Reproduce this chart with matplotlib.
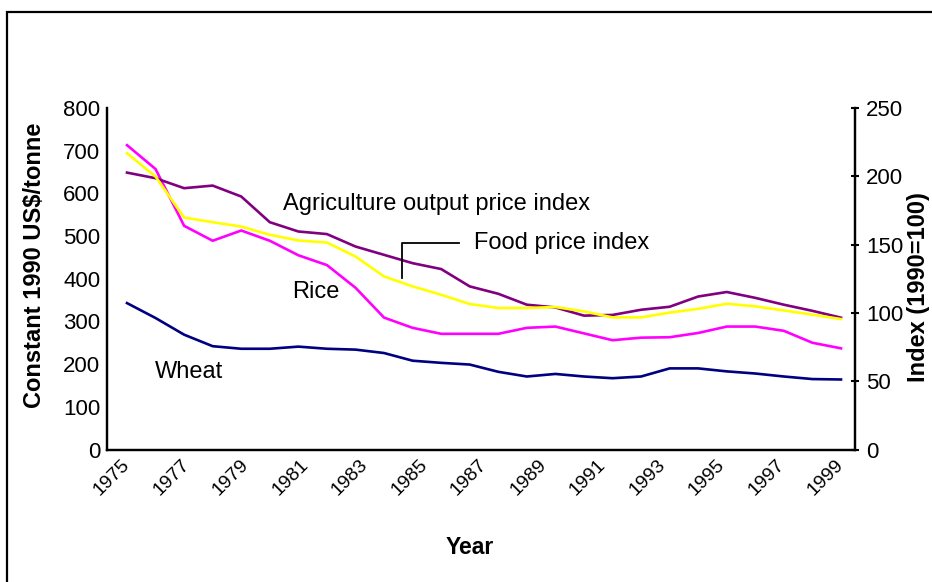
import numpy as np
import matplotlib
matplotlib.use("Agg")
import matplotlib.pyplot as plt
from matplotlib.patches import Rectangle

plt.rcParams['font.family'] = ['Liberation Sans', 'DejaVu Sans']

# ---- data ----
year_labels = ["1975", "1977", "1979", "1981", "1983", "1985", "1987",
               "1989", "1991", "1993", "1995", "1997", "1999"]

rice = [713, 657, 524, 489, 513, 489, 455, 432, 379, 309, 285, 271, 271,
        271, 285, 288, 272, 256, 262, 263, 273, 288, 288, 278, 250, 237]
wheat = [343, 308, 269, 242, 236, 236, 241, 236, 234, 226, 208, 203, 199,
         182, 171, 177, 171, 167, 171, 190, 190, 183, 178, 171, 165, 164]
agri_index = [202.7, 198.6, 191.3, 193.2, 185.2, 166.4, 159.6, 157.7, 148.6,
              142.5, 136.4, 132.1, 119.4, 114.0, 106.0, 104.0, 98.0, 98.5,
              102.3, 104.5, 112.0, 115.3, 111.0, 106.0, 101.5, 96.5]
food_index = [216.9, 199.8, 169.8, 166.4, 163.2, 157.2, 153.0, 151.5, 141.3,
              126.7, 119.4, 113.3, 106.5, 103.6, 103.6, 104.3, 101.1, 96.7,
              96.7, 100.2, 103.0, 106.7, 104.8, 101.8, 98.7, 95.5]

left_ticks = [0, 100, 200, 300, 400, 500, 600, 700, 800]
right_ticks = [0, 50, 100, 150, 200, 250]

x = np.arange(len(rice))

W, H = 932, 582
fig = plt.figure(figsize=(W / 100, H / 100), dpi=100)

def fx(px):
    return px / W

def fy(py):
    return 1 - py / H

ax = fig.add_axes([fx(107.4), fy(449.5), fx(855) - fx(107.4), fy(108) - fy(449.5)])
ax2 = ax.twinx()

lw = 1.9
ax.plot(x, rice, color='#FF00FF', lw=lw, solid_joinstyle='miter')
ax.plot(x, wheat, color='#000080', lw=lw, solid_joinstyle='miter')
ax2.plot(x, agri_index, color='#800080', lw=lw, solid_joinstyle='miter')
ax2.plot(x, food_index, color='#FFFF00', lw=lw, solid_joinstyle='miter')

ax.set_xlim(-0.686, 25.49)
ax.set_ylim(0, 800)
ax2.set_ylim(0, 250)

ax.set_yticks(left_ticks)
ax.set_yticklabels([str(t) for t in left_ticks], fontsize=16)
ax2.set_yticks(right_ticks)
ax2.set_yticklabels([str(t) for t in right_ticks], fontsize=16)

tick_pos = np.linspace(x[0], x[-1], len(year_labels))
ax.set_xticks(tick_pos)
ax.set_xticklabels(year_labels, rotation=45, ha='right', va='center',
                   rotation_mode='anchor', fontsize=14)

ax.tick_params(axis='x', length=0, pad=9)
ax.tick_params(axis='y', length=0, pad=5)
ax2.tick_params(axis='y', direction='inout', length=6, width=1.5, pad=5)

for a in (ax, ax2):
    a.spines['top'].set_visible(False)
    for s in ('left', 'right', 'bottom'):
        a.spines[s].set_linewidth(1.6)
ax.patch.set_alpha(0)

# series labels / annotations
ax.text(0.98, 182.5, "Wheat", fontsize=17, va='center', ha='left')
ax.text(5.78, 369.6, "Rice", fontsize=17, va='center', ha='left')
ax2.text(5.46, 179.8, "Agriculture output price index", fontsize=17,
         va='center', ha='left')
ax2.plot([9.63, 9.63, 11.62], [125.7, 151.1, 151.1], color='black', lw=1.3)
ax2.text(12.15, 151.1, "Food price index", fontsize=17, va='center', ha='left')

# axis titles
fig.text(fx(35), fy(265), "Constant 1990 US$/tonne", rotation=90,
         fontsize=17, fontweight='bold', ha='center', va='center')
fig.text(fx(919), fy(287), "Index (1990=100)", rotation=90,
         fontsize=17, fontweight='bold', ha='center', va='center')
fig.text(fx(470), fy(548), "Year", fontsize=16.5, fontweight='bold',
         ha='center', va='center')

# outer frame (right and bottom edges run off the image)
fig.add_artist(Rectangle((fx(7), -0.1), 1.2, fy(12) + 0.1, fill=False,
                         lw=1.6, edgecolor='black', transform=fig.transFigure))

fig.savefig("out.png", dpi=100)
